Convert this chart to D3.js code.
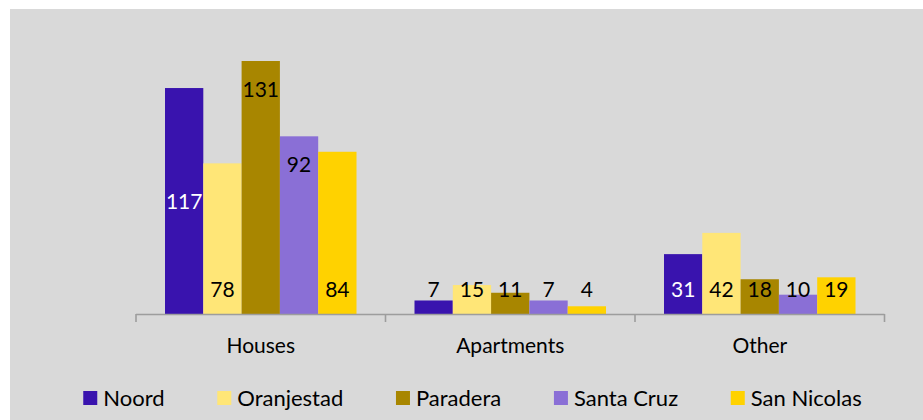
<!DOCTYPE html>
<html>
<head>
<meta charset="utf-8">
<script src="https://cdn.jsdelivr.net/npm/d3@7"></script>
<style>
  html, body { margin: 0; padding: 0; background: #ffffff; }
  svg { display: block; }
  text { font-family: Lato, "Open Sans", sans-serif; }
</style>
</head>
<body>
<svg id="chart" width="923" height="420"></svg>
<script>
// ---- data ----
const categories = ["Houses", "Apartments", "Other"];
const seriesNames = ["Noord", "Oranjestad", "Paradera", "Santa Cruz", "San Nicolas"];
const noord      = [117, 7, 31];
const oranjestad = [78, 15, 42];
const paradera   = [131, 11, 18];
const santaCruz  = [92, 7, 10];
const sanNicolas = [84, 4, 19];
// label placement per series (per category), as in the original chart
const labelModes = [
  ["center", "base", "base"],
  ["base", "base", "base"],
  ["end", "base", "base"],
  ["end", "base", "base"],
  ["base", "base", "base"]
];

const seriesValues = [noord, oranjestad, paradera, santaCruz, sanNicolas];
const colors = ["#3913ae", "#ffe677", "#a88600", "#8a6fd6", "#ffd200"];
const darkSeries = [true, false, false, false, false];

const svg = d3.select("#chart");

// background panel
svg.append("rect").attr("x", 10).attr("y", 9).attr("width", 913).attr("height", 411).attr("fill", "#d9d9d9");

const axisY = 314;
const x0 = d3.scaleBand().domain(categories).range([136, 884.5]).paddingInner(0).paddingOuter(0);
const x1 = d3.scaleBand().domain(seriesNames).range([29, x0.bandwidth() - 29]).padding(0);
const y = d3.scaleLinear().domain([0, 131]).range([axisY, 61]);

const rows = [];
categories.forEach((c, ci) => {
  seriesNames.forEach((s, si) => {
    const v = seriesValues[si][ci];
    const mode = labelModes[si][ci];
    let ly;
    if (mode === "center") ly = (y(v) + y(0)) / 2;
    else if (mode === "end") ly = y(v) + 28;
    else ly = y(0) - 24.5;
    const inside = ly - 8 > y(v);
    rows.push({cat: c, ser: s, si: si, v: v, ly: ly, col: (darkSeries[si] && inside) ? "#ffffff" : "#000000"});
  });
});

// bars
svg.append("g").selectAll("rect").data(rows).join("rect")
  .attr("x", d => x0(d.cat) + x1(d.ser))
  .attr("y", d => y(d.v))
  .attr("width", x1.bandwidth())
  .attr("height", d => y(0) - y(d.v))
  .attr("fill", d => colors[d.si]);

// data labels
svg.append("g").selectAll("text").data(rows).join("text")
  .attr("x", d => x0(d.cat) + x1(d.ser) + x1.bandwidth() / 2)
  .attr("y", d => d.ly)
  .attr("dy", "0.36em")
  .attr("text-anchor", "middle")
  .attr("font-size", 21)
  .attr("fill", d => d.col)
  .text(d => d.v);

// axis line and ticks at category boundaries
const axisColor = "#9d9d9d";
const ax = svg.append("g");
ax.append("line").attr("x1", x0.range()[0]).attr("x2", x0.range()[1])
  .attr("y1", axisY + 0.5).attr("y2", axisY + 0.5)
  .attr("stroke", axisColor).attr("stroke-width", 1.6);
const tickXs = categories.map(c => x0(c)).concat([x0(categories[categories.length - 1]) + x0.bandwidth()]);
ax.selectAll("line.tick").data(tickXs).join("line").attr("class", "tick")
  .attr("x1", d => d).attr("x2", d => d)
  .attr("y1", axisY).attr("y2", axisY + 8)
  .attr("stroke", axisColor).attr("stroke-width", 1.6);
ax.selectAll("text").data(categories).join("text")
  .attr("x", d => x0(d) + x0.bandwidth() / 2)
  .attr("y", 345)
  .attr("dy", "0.36em")
  .attr("text-anchor", "middle")
  .attr("font-size", 21)
  .attr("fill", "#000")
  .text(d => d);

// legend
const lg = svg.append("g");
const items = lg.selectAll("g").data(seriesNames).join("g");
items.append("rect").attr("width", 14).attr("height", 14).attr("y", 391)
  .attr("fill", (d, i) => colors[i]);
items.append("text").attr("x", 20).attr("y", 398).attr("dy", "0.36em")
  .attr("font-size", 22).attr("fill", "#000").text(d => d);
let cx = 0;
const offsets = [];
items.each(function() {
  offsets.push(cx);
  const w = d3.select(this).select("text").node().getComputedTextLength();
  cx += 20 + w + 52.7;
});
const total = cx - 52.7;
const start = 472.5 - total / 2;
items.attr("transform", (d, i) => `translate(${start + offsets[i]},0)`);
</script>
</body>
</html>
